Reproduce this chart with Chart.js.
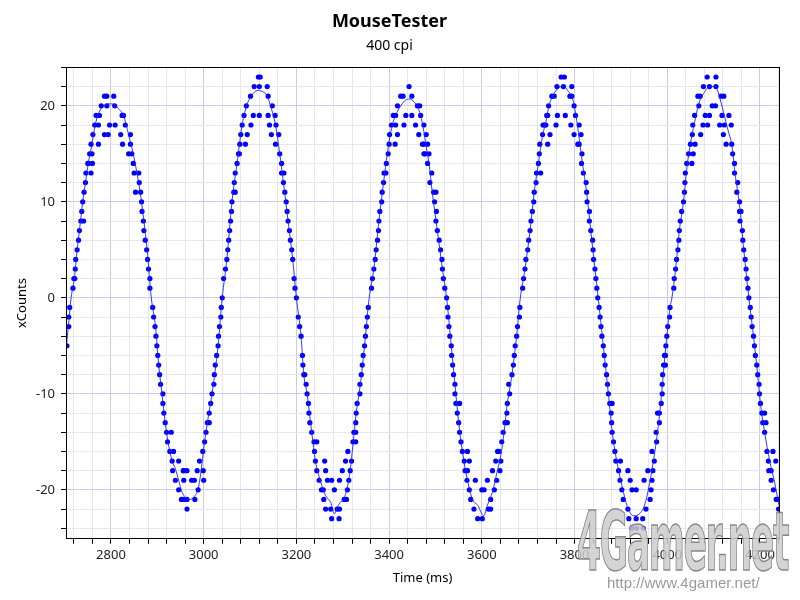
<!DOCTYPE html>
<html>
<head>
<meta charset="utf-8">
<script src="https://cdn.jsdelivr.net/npm/chart.js@4"></script>
<style>
  body { margin: 0; background: #fff; }
  #wrap { position: relative; width: 800px; height: 600px; overflow: hidden; }
  #logo {
    position: absolute; left: 577px; top: 494px;
    font-family: "DejaVu Sans Condensed", "Liberation Sans Narrow", "DejaVu Sans", sans-serif;
    font-weight: bold; font-size: 82px; letter-spacing: -3px;
    color: rgba(205, 205, 205, 0.85);
    -webkit-text-stroke: 1.5px rgba(125, 125, 125, 0.9);
    transform-origin: 0 0; transform: scaleX(0.47);
    pointer-events: none; white-space: nowrap;
  }
  #url {
    position: absolute; left: 607px; top: 574px;
    font-family: "Liberation Sans", Arial, sans-serif; font-size: 15px;
    color: #9a9a9a; pointer-events: none; white-space: nowrap;
  }
</style>
</head>
<body>
<div id="wrap">
  <canvas id="chart" width="800" height="600"></canvas>
  <div id="logo">4Gamer.net</div>
  <div id="url">http://www.4gamer.net/</div>
</div>
<script>
// samples: [time (ms), xCounts]
const wave1 = [[2705,-5],[2709,-3],[2709,-2],[2711,-1],[2718,1],[2720,2],[2722,2],[2723,3],[2724,4],[2727,5],[2730,6],[2732,7],[2735,8],[2741,8],[2737,9],[2739,10],[2742,11],[2745,12],[2746,13],[2757,13],[2750,14],[2752,14],[2760,14],[2754,15],[2759,15],[2757,16],[2773,16],[2761,17],[2786,17],[2794,17],[2821,17],[2842,17],[2765,18],[2773,18],[2797,18],[2809,18],[2831,18],[2768,19],[2775,19],[2824,19],[2827,19],[2779,20],[2791,20],[2808,20],[2786,21],[2791,21],[2806,21],
  [2825,16],[2842,16],[2838,15],[2845,15],[2848,14],[2850,13],[2860,13],[2861,12],[2853,11],[2864,11],[2866,10],[2867,9],[2870,8],[2871,7],[2874,6],[2877,5],[2879,4],[2881,3],[2884,2],[2884,1],[2890,-1],[2892,-2],[2895,-3],[2897,-4],[2899,-5],[2901,-6],[2903,-7],[2905,-8],[2907,-9],[2912,-10],[2912,-11],[2914,-12],[2917,-13],[2920,-14],[2930,-14],[2922,-15],[2927,-16],[2935,-16],[2932,-17],[2946,-17],[2933,-18],[2956,-18],[2939,-19],[2946,-20],[2952,-21]];
const wave2 = [[2957,-18],[2964,-18],[2957,-19],[2974,-19],[2980,-19],[2956,-21],[2964,-21],[2981,-21],[2964,-22],[2988,-20],[2986,-18],[2991,-17],[2998,-16],[2999,-18],[3000,-19],[3002,-15],[3005,-14],[3008,-13],[3012,-13],[3012,-12],[3015,-11],[3018,-10],[3022,-9],[3023,-8],[3025,-7],[3028,-6],[3031,-5],[3032,-4],[3034,-3],[3037,-2],[3038,-1],[3040,0],[3043,2],[3047,3],[3050,4],[3052,5],[3054,6],[3056,7],[3058,8],[3060,9],[3061,10],[3065,11],[3068,11],[3066,12],[3068,13],[3072,14],[3075,15],[3077,15],[3078,16],[3090,16],[3080,17],[3094,17],[3083,18],[3102,18],[3087,19],[3107,19],[3120,19],[3092,20],[3101,21],[3109,22],[3120,22],[3137,22],[3118,23],[3122,23],
  [3139,21],[3148,20],[3139,19],[3154,19],[3142,18],[3156,18],[3146,17],[3162,17],[3155,16],[3164,15],[3168,14],[3168,13],[3173,13],[3172,12],[3175,11],[3178,10],[3180,9],[3182,8],[3185,7],[3187,6],[3190,5],[3192,4],[3195,2],[3197,1],[3200,0],[3204,-2],[3207,-3],[3210,-4],[3213,-6],[3214,-7],[3216,-8]];
const wave3 = [[3218,-8],[3221,-9],[3223,-10],[3226,-11],[3227,-12],[3229,-13],[3233,-14],[3238,-15],[3244,-15],[3239,-16],[3241,-17],[3244,-18],[3249,-19],[3254,-20],[3258,-20],[3259,-21],[3263,-22],[3274,-22],[3276,-23],[3292,-23],[3261,-17],[3263,-18],[3267,-19],[3276,-19],[3282,-20],[3288,-22],[3293,-22],[3293,-19],[3299,-18],[3303,-21],[3308,-21],[3310,-20],[3313,-19],[3316,-18],[3306,-17],[3319,-17],[3311,-16],[3322,-15],[3328,-15],[3324,-14],[3328,-14],[3328,-13],[3329,-12],[3331,-11],[3337,-10],[3337,-9],[3340,-8],[3342,-7],[3344,-6],[3347,-5],[3349,-4],[3351,-3],[3353,-2],[3355,-1],[3362,1],[3364,2],[3367,3],[3370,4],[3372,5],[3375,6],[3377,7],[3378,8],[3380,9],[3384,10],[3385,11],[3388,12],[3389,13],[3393,13],[3394,14],[3398,15],
  [3400,16],[3413,16],[3401,17],[3418,17],[3405,18],[3414,18],[3432,18],[3409,19],[3414,19],[3436,19],[3418,20],[3425,21],[3430,21],[3443,22],[3449,21],[3449,19],[3457,18],[3461,20],[3466,20],[3464,17],[3468,19],[3472,16],[3475,15]];
const wave4 = [[3475,18],[3475,16],[3483,16],[3480,17],[3478,15],[3486,15],[3483,14],[3492,13],[3488,12],[3496,11],[3501,11],[3498,10],[3502,9],[3501,8],[3504,7],[3508,6],[3511,5],[3514,4],[3515,3],[3517,2],[3520,1],[3524,0],[3526,-1],[3527,-2],[3529,-3],[3531,-4],[3534,-5],[3535,-6],[3537,-7],[3539,-8],[3542,-9],[3542,-10],[3544,-11],[3552,-11],[3547,-12],[3550,-13],[3552,-14],[3555,-15],[3558,-16],[3569,-16],[3562,-17],[3573,-17],[3564,-18],[3569,-18],[3568,-19],[3586,-19],[3573,-20],[3576,-21],[3583,-22],[3591,-23],[3601,-23],[3600,-20],[3605,-20],[3612,-19],[3614,-22],[3619,-22],[3619,-21],[3623,-18],[3627,-20],[3630,-17],[3632,-19],[3634,-16],[3637,-16],[3639,-18],[3641,-17],[3643,-15],[3646,-14],[3650,-13],[3655,-13],[3654,-12],[3655,-11],[3660,-10],[3658,-9],[3665,-8],[3668,-7],[3670,-6],[3672,-5],[3675,-4],[3677,-3],[3681,-2],[3682,-1],[3688,1],[3690,2],[3693,3],[3695,4],[3699,5],[3701,6],[3704,7],[3706,8],[3709,9],[3712,10],[3713,11],[3717,12],[3718,13],[3727,13],[3722,14],[3724,15],[3725,16],[3731,17],[3732,18]];
const wave5 = [[3735,18],[3738,18],[3740,19],[3742,19],[3742,16],[3747,17],[3744,20],[3751,21],[3756,21],[3762,22],[3771,23],[3778,23],[3776,22],[3794,22],[3760,18],[3763,19],[3780,19],[3790,21],[3794,21],[3799,20],[3802,19],[3792,18],[3810,18],[3799,17],[3814,17],[3807,16],[3810,16],[3816,15],[3815,14],[3819,13],[3825,12],[3826,11],[3827,10],[3832,9],[3832,8],[3835,7],[3839,6],[3840,5],[3841,4],[3844,3],[3846,2],[3848,1],[3850,0],[3853,-1],[3855,-2],[3857,-3],[3859,-4],[3862,-5],[3864,-6],[3866,-7],[3869,-8],[3871,-9],[3873,-10],[3876,-11],[3881,-11],[3879,-12],[3880,-13],[3881,-14],[3884,-15],[3887,-16],[3889,-17],[3899,-17],[3895,-18],[3915,-18],[3898,-19],[3920,-19],[3902,-20],[3924,-20],[3933,-20],[3905,-21],[3915,-22],[3917,-23],[3933,-23],[3947,-23],[3924,-24],[3934,-24],[3948,-24],[3954,-22],[3950,-19],[3958,-18],[3963,-21],[3965,-20],[3967,-19],[3969,-18],[3967,-16],[3972,-17],[3976,-14],[3977,-15],[3979,-12],[3983,-12],[3983,-13],[3987,-11],[3989,-10],[3989,-9],[3990,-8],[3992,-7],[3994,-6]];
const wave6 = [[3996,-7],[3996,-6],[3997,-5],[3999,-4],[4001,-3],[4005,-2],[4006,-1],[4014,1],[4015,2],[4018,3],[4020,4],[4023,5],[4025,6],[4026,7],[4028,8],[4031,9],[4035,10],[4037,11],[4038,12],[4039,13],[4042,14],[4053,14],[4046,15],[4056,15],[4050,16],[4060,16],[4054,17],[4072,17],[4055,18],[4077,18],[4087,18],[4059,19],[4082,19],[4091,19],[4068,20],[4066,21],[4071,21],[4078,22],[4091,22],[4105,22],[4086,23],[4105,23],[4097,20],[4104,20],[4116,21],[4122,21],[4118,19],[4133,19],[4113,18],[4123,18],[4138,18],[4121,17],[4127,16],[4139,16],[4141,15],[4145,14],[4145,13],[4152,12],[4150,11],[4156,10],[4156,9],[4159,9],[4157,8],[4162,7],[4163,6],[4165,5],[4168,4],[4170,3],[4172,2],[4174,1],[4176,0],[4179,-1],[4181,-2],[4183,-3],[4186,-4],[4188,-5],[4190,-6],[4193,-7],[4195,-8],[4198,-9],[4199,-10],[4201,-11],[4204,-12],[4210,-12],[4206,-13],[4213,-13],[4210,-14],[4215,-16],[4228,-16],[4218,-17],[4234,-17],[4219,-18],[4224,-18],[4224,-19],[4229,-20],[4235,-21],[4240,-21],[4240,-22]];

// smoothed trend line
const trend = [[2704,-5],[2709,-2.5],[2714,0],[2721,2],[2727,5],[2732,7],[2739,10],[2745,12],[2751,14],[2759,16],[2766,18],[2774,19.3],[2785,20],[2798,20.2],[2808,20.1],[2818,19.6],[2827,19],[2838,17],[2848,15],[2856,13],[2863,11],[2871,8],[2878,5],[2887,0],[2896,-3],[2903,-7],[2910,-10],[2917,-13],[2923,-15],[2932,-17],[2939,-17.8],[2946,-19],[2953,-20.2],[2961,-20.8],[2971,-21],[2981,-20.6],[2988,-19.9],[2995,-17.8],[3000,-15.7],[3007,-13.3],[3018,-10],[3031,-5],[3040,0],[3050,4],[3061,10],[3072,14],[3083,18],[3094,20.2],[3104,21.1],[3115,21.6],[3126,21.5],[3137,21],[3146,19.7],[3155,18],[3164,15],[3172,12],[3182,8],[3192,4],[3200,0],[3210,-4],[3216,-8],[3223,-10],[3233,-14],[3241,-17],[3252,-19.1],[3263,-20.6],[3274,-21.3],[3282,-22.5],[3288,-21.8],[3295,-21.3],[3302,-21],[3310,-19.7],[3316,-18],[3322,-15.3],[3329,-12],[3338,-9],[3347,-5],[3357,0],[3367,3],[3378,8],[3388,12],[3396,15],[3405,17.6],[3414,19],[3425,20],[3436,20.6],[3444,20.7],[3454,20.4],[3461,19.9],[3468,19],[3475,17.3],[3479,16],[3486,14],[3493,11],[3504,7],[3515,3],[3524,0],[3534,-5],[3542,-9],[3550,-13],[3558,-16],[3569,-19],[3580,-21],[3591,-21.6],[3604,-22.7],[3612,-21.6],[3623,-20.2],[3632,-18.3],[3641,-16.4],[3648,-14],[3655,-11],[3665,-8],[3675,-4],[3683,0],[3693,3],[3704,7],[3713,11],[3722,14],[3731,16.9],[3738,18.3],[3745,20],[3756,21.3],[3767,21.9],[3776,22.1],[3785,21.6],[3796,20.7],[3803,19],[3810,16.6],[3817,14],[3826,11],[3835,7],[3844,3],[3851,0],[3862,-5],[3873,-10],[3882,-14.3],[3891,-17],[3900,-19.1],[3915,-21.9],[3927,-22.7],[3940,-22.5],[3951,-21.6],[3960,-19.8],[3969,-17.3],[3977,-14.7],[3984,-11.9],[3990,-8.8],[3997,-5],[4006,-1],[4010,0],[4018,3],[4026,7],[4035,10],[4041,13],[4048,15.5],[4059,18.3],[4069,20.4],[4080,21.4],[4091,22],[4104,22],[4114,20.7],[4123,19],[4133,17.1],[4139,16],[4146,13],[4156,9.6],[4165,5],[4176,0],[4186,-4],[4195,-8],[4201,-11],[4210,-14],[4221,-17],[4231,-19.1],[4241,-21.6]];

const xRange = [2703, 4241];
const yRange = [-25.1, 24];

const toXY = (p) => ({ x: p[0], y: p[1] });
const samples = [...wave1, ...wave2, ...wave3, ...wave4, ...wave5, ...wave6].map(toXY);

const FONT = "'Noto Sans', 'Open Sans', sans-serif";

// box around the plot area
const frame = {
  id: 'frame',
  afterDraw(chart) {
    const a = chart.chartArea, ctx = chart.ctx;
    ctx.save();
    ctx.strokeStyle = '#000';
    ctx.lineWidth = 1;
    ctx.strokeRect(Math.round(a.left) + 0.5, Math.round(a.top) + 0.5, Math.round(a.right - a.left), Math.round(a.bottom - a.top));
    ctx.restore();
  }
};

const isMajor = (v, step) => Math.abs(Math.round(v / step) * step - v) < 1e-6;

new Chart("chart", {
  type: "scatter",
  data: {
    datasets: [{
      type: "line",
      data: trend.map(toXY),
      borderColor: "rgba(30,30,255,0.9)",
      borderWidth: 1,
      pointRadius: 0,
      fill: false,
      cubicInterpolationMode: "monotone"
    }, {
      data: samples,
      backgroundColor: "#0000ff",
      borderWidth: 0,
      pointRadius: 2.6,
      pointHoverRadius: 2.6
    }]
  },
  options: {
    responsive: false,
    animation: false,
    layout: { padding: { left: 0, right: 21, top: 0, bottom: 14 } },
    plugins: {
      legend: { display: false },
      tooltip: { enabled: false },
      title: {
        display: true, text: "MouseTester", color: "#000",
        font: { family: FONT, size: 18, weight: "bold" },
        padding: { top: 11, bottom: 5 }
      },
      subtitle: {
        display: true, text: "400 cpi", color: "#000",
        font: { family: FONT, size: 14 },
        padding: { top: 0, bottom: 13 }
      }
    },
    scales: {
      x: {
        type: "linear", min: xRange[0], max: xRange[1],
        border: { color: "#000" },
        grid: {
          color: (c) => isMajor(c.tick.value, 200) ? "#cbcbee" : "#e6e6f4",
          tickColor: "#000", tickLength: 5
        },
        ticks: {
          stepSize: 40, includeBounds: false, autoSkip: false, maxRotation: 0,
          color: "#222", font: { family: FONT, size: 13 }, padding: 4,
          callback: (v) => isMajor(v, 200) ? String(Math.round(v)) : ""
        },
        title: {
          display: true, text: "Time (ms)", color: "#000",
          font: { family: FONT, size: 13 }, padding: { top: 3, bottom: 0 }
        }
      },
      y: {
        min: yRange[0], max: yRange[1],
        border: { color: "#000" },
        afterFit: (s) => { s.width = 66; },
        grid: {
          color: (c) => isMajor(c.tick.value, 10) ? "#cbcbee" : "#e6e6f4",
          tickColor: "#000", tickLength: 5
        },
        ticks: {
          stepSize: 2, includeBounds: false, autoSkip: false,
          color: "#222", font: { family: FONT, size: 13 }, padding: 6,
          callback: (v) => isMajor(v, 10) ? String(Math.round(v)) : ""
        },
        title: {
          display: true, text: "xCounts", color: "#000",
          font: { family: FONT, size: 13 }, padding: { top: 14, bottom: 0 }
        }
      }
    }
  },
  plugins: [frame]
});
</script>
</body>
</html>
